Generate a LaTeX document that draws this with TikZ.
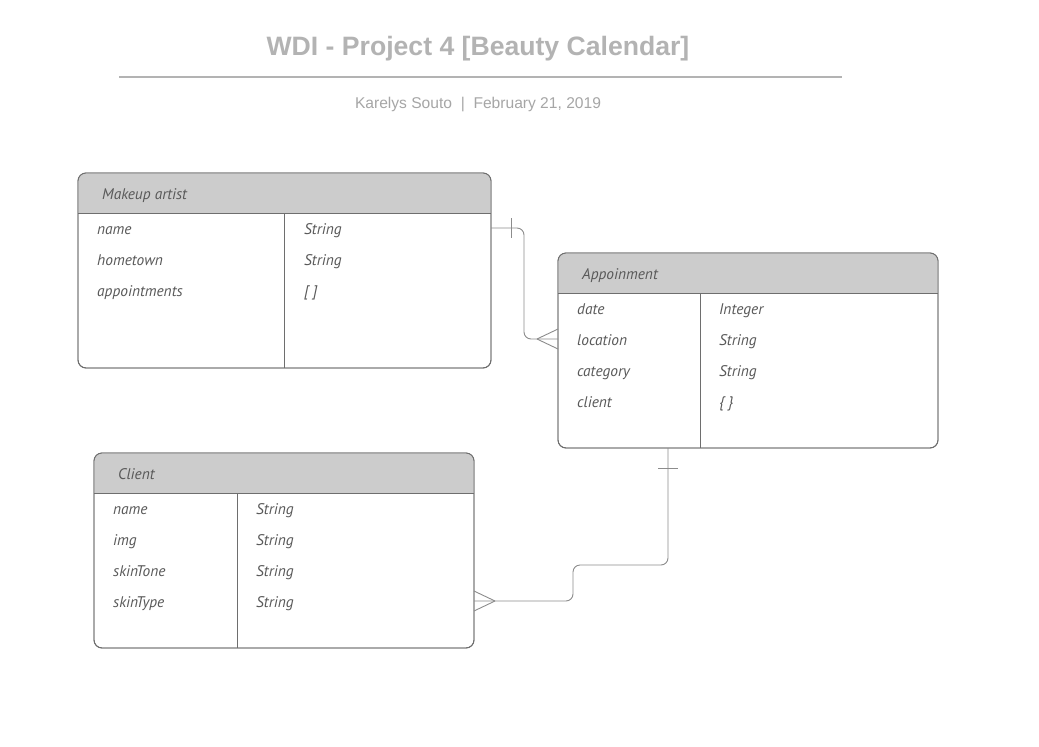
\documentclass[tikz,border=0pt]{standalone}
\usepackage{fontspec}
\setmainfont{Liberation Sans}
\newfontfamily\ptsans{PT Sans}
\usetikzlibrary{calc}
\definecolor{titlegray}{HTML}{B3B3B3}
\definecolor{subgray}{HTML}{A6A6A6}
\definecolor{hdrfill}{HTML}{CCCCCC}
\definecolor{edge}{HTML}{6E6E6E}
\definecolor{txt}{HTML}{595959}
\definecolor{conn}{HTML}{8C8C8C}
\tikzset{
  entbox/.style={draw=edge, line width=0.9pt, rounded corners=8pt, inner sep=0pt, outer sep=0pt, anchor=north west},
  field/.style={anchor=west, inner sep=0pt, yshift=-1.5pt, text height=11pt, text depth=3pt, text=txt, font=\ptsans\itshape\fontsize{15.4}{18}\selectfont},
  divider/.style={draw=edge, line width=0.9pt},
  rel/.style={draw=conn, line width=0.9pt, rounded corners=7pt},
  relmark/.style={draw=conn, line width=0.9pt},
}
\newcommand{\entity}[8]{% name, x, y, w, h, divx, headerbottom, title
  \node[entbox, minimum width=#4pt, minimum height=#5pt] (#1) at (#2,#3) {};
  \begin{scope}
    \clip[rounded corners=8pt] (#1.south west) rectangle (#1.north east);
    \fill[hdrfill] (#1.north west) rectangle (#2+#4,#7);
  \end{scope}
  \node[entbox, minimum width=#4pt, minimum height=#5pt] at (#2,#3) {};
  \draw[divider] (#2,#7) -- (#2+#4,#7);
  \draw[divider] (#6,#7) -- (#6,#3+#5);
  \node[field] (#1-title) at (#2+24,#3+21) {#8};
}
\begin{document}
\begin{tikzpicture}[x=1pt,y=-1pt]
\useasboundingbox (0,0) rectangle (1039,747);
\fill[white] (0,0) rectangle (1039,747);

\node[text=titlegray, font=\bfseries\fontsize{26.6}{30}\selectfont] (title) at (478,49) {WDI - Project 4 [Beauty Calendar]};
\draw[titlegray, line width=1.6pt] (119,77) -- (842,77);
\node[text=subgray, font=\fontsize{15.6}{18}\selectfont] (sub) at (478,104) {Karelys Souto~~|~~February 21, 2019};

% Makeup artist
\entity{ma}{78}{173}{413}{195}{284}{213}{Makeup artist}
\node[field] (ma-f1) at (97,229) {name};
\node[field] (ma-f2) at (97,260) {hometown};
\node[field] (ma-f3) at (97,291) {appointments};
\node[field] (ma-t1) at (304,229) {String};
\node[field] (ma-t2) at (304,260) {String};
\node[field] (ma-t3) at (304,291) {[ ]};

% Appoinment
\entity{ap}{558}{253}{380}{195}{700}{293}{Appoinment}
\node[field] (ap-f1) at (577,309) {date};
\node[field] (ap-f2) at (577,340) {location};
\node[field] (ap-f3) at (577,371) {category};
\node[field] (ap-f4) at (577,402) {client};
\node[field] (ap-t1) at (719,309) {Integer};
\node[field] (ap-t2) at (719,340) {String};
\node[field] (ap-t3) at (719,371) {String};
\node[field] (ap-t4) at (719,402) {\{ \}};

% Client
\entity{cl}{94}{453}{380}{195}{237}{493}{Client}
\node[field] (cl-f1) at (113,509) {name};
\node[field] (cl-f2) at (113,540) {img};
\node[field] (cl-f3) at (113,571) {skinTone};
\node[field] (cl-f4) at (113,602) {skinType};
\node[field] (cl-t1) at (256,509) {String};
\node[field] (cl-t2) at (256,540) {String};
\node[field] (cl-t3) at (256,571) {String};
\node[field] (cl-t4) at (256,602) {String};

% Relationship: Makeup artist -> Appoinment
\coordinate (r1a) at (ma.east |- 0,228);
\coordinate (r1b) at (ap.west |- 0,339);
\draw[rel] (r1a) -- (524,228) -- (524,339) -- (r1b);
\draw[relmark] (511,218) -- (511,238);
\draw[relmark] (537,339) -- (558,329);
\draw[relmark] (537,339) -- (558,349);

% Relationship: Appoinment -> Client
\coordinate (r2a) at (ap.south -| 668,0);
\coordinate (r2b) at (cl.east |- 0,601);
\draw[rel] (r2a) -- (668,565) -- (573,565) -- (573,601) -- (r2b);
\draw[relmark] (658,468) -- (678,468);
\draw[relmark] (495,601) -- (474,591);
\draw[relmark] (495,601) -- (474,611);
\end{tikzpicture}
\end{document}
